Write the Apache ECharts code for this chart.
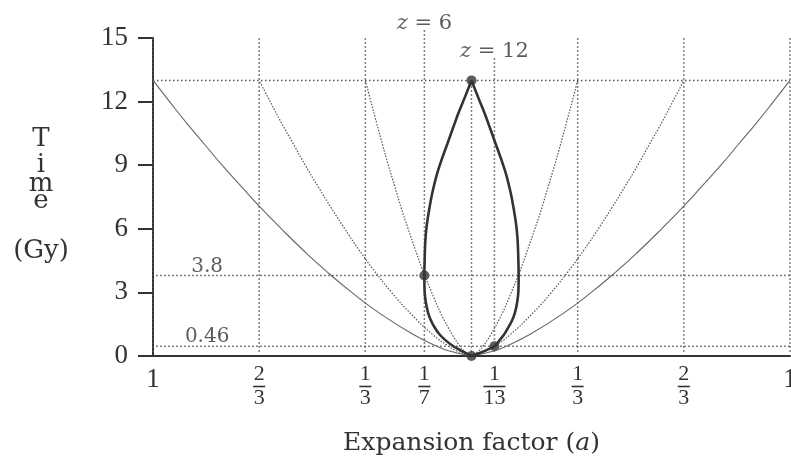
<!DOCTYPE html>
<html>
<head>
    <meta charset="utf-8">
    <title>Time vs expansion factor</title>
    <script src="https://cdn.jsdelivr.net/npm/echarts@6/dist/echarts.min.js"></script>
    <style>
        html, body {
            margin: 0;
            padding: 0;
            background: #fff;
        }

        #main {
            width: 791px;
            height: 457px;
        }
    </style>
</head>
<body>
<div id="main"></div>
<script type="text/javascript">
    var myChart = echarts.init(document.getElementById('main'));

    const ink = '#333';
    const serif = '"Liberation Serif", "Times New Roman", serif';
    const wide = '"DejaVu Serif", serif';

    // galaxy world lines (x at each time)
    const worldTime = [0, 0.25, 0.5, 1, 2, 3, 4, 5, 6, 7, 8, 9, 10, 11, 12, 13];
    const worldX1 = [0, 0.072, 0.114, 0.181, 0.287, 0.376, 0.456, 0.529, 0.597, 0.662, 0.723, 0.783, 0.839, 0.895, 0.948, 1];
    const worldX23 = [0, 0.048, 0.076, 0.121, 0.191, 0.251, 0.304, 0.353, 0.398, 0.441, 0.482, 0.522, 0.559, 0.597, 0.632, 0.667];
    const worldX13 = [0, 0.024, 0.038, 0.060, 0.096, 0.125, 0.152, 0.176, 0.199, 0.221, 0.241, 0.261, 0.280, 0.298, 0.316, 0.333];
    const worldLeftX1 = [0, -0.072, -0.114, -0.181, -0.287, -0.376, -0.456, -0.529, -0.597, -0.662, -0.723, -0.783, -0.839, -0.895, -0.948, -1];
    const worldLeftX23 = [0, -0.048, -0.076, -0.121, -0.191, -0.251, -0.304, -0.353, -0.398, -0.441, -0.482, -0.522, -0.559, -0.597, -0.632, -0.667];
    const worldLeftX13 = [0, -0.024, -0.038, -0.060, -0.096, -0.125, -0.152, -0.176, -0.199, -0.221, -0.241, -0.261, -0.280, -0.298, -0.316, -0.333];

    // the light cone (teardrop)
    const coneTime = [0, 0.12, 0.28, 0.46, 0.76, 1.05, 1.38, 1.7, 2.02, 2.5, 3.0, 3.8, 4.6, 5.4, 6.1, 6.9, 7.7, 8.5, 9.25, 10.0, 10.8, 11.5, 12.2, 13];
    const coneLeft = [0, -0.016, -0.036, -0.057, -0.083, -0.102, -0.117, -0.128, -0.136, -0.143, -0.147, -0.148, -0.147, -0.145, -0.141, -0.133, -0.123, -0.110, -0.094, -0.076, -0.057, -0.040, -0.021, 0];
    const coneRight = [0, 0.022, 0.047, 0.072, 0.089, 0.104, 0.117, 0.128, 0.136, 0.143, 0.147, 0.148, 0.147, 0.145, 0.141, 0.133, 0.123, 0.110, 0.094, 0.076, 0.057, 0.040, 0.021, 0];

    // marked events
    const eventX = [0, -0.148, 0.072, 0];
    const eventT = [0, 3.8, 0.46, 13];

    // guides
    const guideX = [-1, -2 / 3, -1 / 3, 1 / 3, 2 / 3, 1];
    const guideT = [13, 3.8, 0.46];
    const guideTLabels = ['', '3.8', '0.46'];
    const redshiftX = [-0.148, 0.072];
    const redshiftTop = [15.4, 14.1];
    const redshiftNames = ['6', '12'];

    // x axis ticks
    const tickX = [-1, -2 / 3, -1 / 3, -0.148, 0.072, 1 / 3, 2 / 3, 1];
    const tickLabels = ['1', '2/3', '1/3', '1/7', '1/13', '1/3', '2/3', '1'];

    const yTicks = [0, 3, 6, 9, 12, 15];

    function pairs(xs, ts) {
        return ts.map((t, i) => [xs[i], t]);
    }

    const dotted = {color: '#555', width: 1.5, type: [1.5, 2.5]};

    let series = [];

    // vertical guides
    guideX.forEach(x => {
        series.push({
            type: 'line', symbol: 'none', silent: true, clip: false,
            data: [[x, 0.2], [x, 15]],
            lineStyle: dotted
        });
    });
    series.push({
        type: 'line', symbol: 'none', silent: true,
        data: [[0, 0.2], [0, 13]],
        lineStyle: dotted
    });
    redshiftX.forEach((x, i) => {
        series.push({
            type: 'line', symbol: 'none', silent: true, clip: false,
            data: [[x, 0.2], [x, redshiftTop[i]]],
            lineStyle: dotted
        });
    });

    // horizontal guides
    guideT.forEach(t => {
        series.push({
            type: 'line', symbol: 'none', silent: true,
            data: [[t === 13 ? -1 : -0.99, t], [1, t]],
            lineStyle: dotted
        });
    });

    // world lines
    [worldX1, worldLeftX1].forEach(xs => {
        series.push({
            type: 'line', symbol: 'none', silent: true, smooth: true,
            data: pairs(xs, worldTime),
            lineStyle: {color: '#666', width: 1.1}
        });
    });
    [worldX23, worldX13, worldLeftX23, worldLeftX13].forEach(xs => {
        series.push({
            type: 'line', symbol: 'none', silent: true, smooth: true,
            data: pairs(xs, worldTime),
            lineStyle: {color: '#555', width: 1.2, type: [1.5, 1.5]}
        });
    });

    // the teardrop
    [coneLeft, coneRight].forEach(xs => {
        series.push({
            type: 'line', symbol: 'none', silent: true, smooth: 0.3,
            data: pairs(xs, coneTime),
            lineStyle: {color: ink, width: 2.6}
        });
    });

    // events
    series.push({
        type: 'scatter', symbolSize: 10, silent: true,
        itemStyle: {color: ink},
        data: pairs(eventX, eventT)
    });

    // text on the guides
    series.push({
        type: 'scatter', symbolSize: 0, silent: true, clip: false,
        label: {
            show: true, position: 'top', distance: -1,
            color: ink, fontFamily: wide, fontSize: 20,
            formatter: p => p.data.text
        },
        data: guideT.map((t, i) => ({value: [-0.83, t], text: guideTLabels[i]}))
            .filter(d => d.text)
    });
    series.push({
        type: 'scatter', symbolSize: 0, silent: true, clip: false,
        label: {
            show: true, position: 'top', distance: -5,
            color: ink, fontFamily: wide, fontSize: 21,
            formatter: p => '{z|z} = ' + p.data.text,
            rich: {z: {fontStyle: 'italic', fontFamily: wide, fontSize: 21, color: ink}}
        },
        data: redshiftX.map((x, i) => ({value: [x, redshiftTop[i]], text: redshiftNames[i]}))
    });

    function xLabel(value) {
        let i = tickX.findIndex(v => Math.abs(v - value) < 1e-6);
        if (i < 0) return '';
        let parts = tickLabels[i].split('/');
        if (parts.length === 1) return '{one|' + parts[0] + '}';
        let bar = parts[1].length > 1 ? 'bar2' : 'bar';
        return '{n|' + parts[0] + '}\n{' + bar + '| }\n{n|' + parts[1] + '}';
    }

    var option = {
        animation: false,
        backgroundColor: '#fff',
        grid: {left: 153, right: 1, top: 38, bottom: 101, outerBoundsMode: 'none'},
        graphic: [
            {type: 'text', x: 41, y: 139, style: {text: 'T', align: 'center', verticalAlign: 'middle', fill: ink, font: '26px ' + wide}},
            {type: 'text', x: 41, y: 165, style: {text: 'i', align: 'center', verticalAlign: 'middle', fill: ink, font: '26px ' + wide}},
            {type: 'text', x: 41, y: 184, style: {text: 'm', align: 'center', verticalAlign: 'middle', fill: ink, font: '26px ' + wide}},
            {type: 'text', x: 41, y: 201, style: {text: 'e', align: 'center', verticalAlign: 'middle', fill: ink, font: '26px ' + wide}},
            {type: 'text', x: 41, y: 251, style: {text: '(Gy)', align: 'center', verticalAlign: 'middle', fill: ink, font: '26px ' + wide}}
        ],
        xAxis: {
            type: 'value', min: -1, max: 1,
            name: 'Expansion factor ({i|a})',
            nameLocation: 'middle', nameGap: 75,
            nameTextStyle: {
                color: ink, fontFamily: wide, fontSize: 25,
                rich: {i: {fontStyle: 'italic', fontFamily: wide, fontSize: 25, color: ink}}
            },
            axisLine: {lineStyle: {color: ink, width: 2}},
            axisTick: {show: false},
            splitLine: {show: false},
            axisLabel: {
                customValues: tickX,
                margin: 9,
                color: ink,
                fontFamily: serif,
                formatter: xLabel,
                rich: {
                    one: {fontFamily: serif, fontSize: 27, lineHeight: 30, color: ink},
                    n: {fontFamily: serif, fontSize: 22, lineHeight: 19, color: ink, align: 'center'},
                    bar: {width: 12, height: 1.6, lineHeight: 5, fontSize: 1, backgroundColor: ink, align: 'center'},
                    bar2: {width: 22, height: 1.6, lineHeight: 5, fontSize: 1, backgroundColor: ink, align: 'center'}
                }
            }
        },
        yAxis: {
            type: 'value', min: yTicks[0], max: yTicks[yTicks.length - 1], interval: 3,
            axisLine: {show: true, onZero: false, lineStyle: {color: ink, width: 2}},
            axisTick: {show: true, length: 15, lineStyle: {color: ink, width: 2}},
            splitLine: {show: false},
            axisLabel: {margin: 25, color: ink, fontFamily: serif, fontSize: 27}
        },
        series: series
    };

    myChart.setOption(option);
</script>
</body>
</html>
